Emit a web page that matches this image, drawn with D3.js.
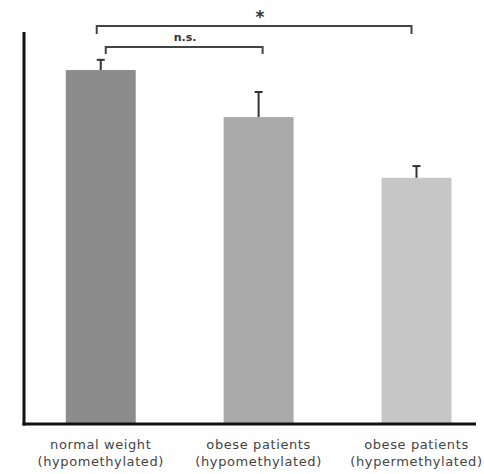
<!DOCTYPE html>
<html><head><meta charset="utf-8">
<script src="https://cdn.jsdelivr.net/npm/d3@7"></script>
<style>body{margin:0;background:#fff}svg{display:block}</style>
</head><body>
<svg id="c" width="484" height="474"></svg>
<script>
const categories = ["normal weight", "obese patients", "obese patients"];
const subLabels = ["(hypomethylated)", "(hypomethylated)", "(hypermethylated)"];
const values = [90.3, 78.3, 62.8];
const errors = [2.6, 6.4, 3.0];
const colors = ["#8c8c8c", "#aaaaaa", "#c6c6c6"];
const sigLabels = ["*", "n.s."];

const svg = d3.select("#c");
const ids = categories.map((d, i) => i);
const x = d3.scaleBand().domain(ids).range([24, 476]).paddingInner(0.557).paddingOuter(0.21).align(0.63);
const y = d3.scaleLinear().domain([0, 100]).range([424, 32]);

// bars
svg.selectAll("rect.bar").data(values).join("rect")
  .attr("x", (d, i) => x(i)).attr("width", x.bandwidth())
  .attr("y", d => y(d)).attr("height", d => y(0) - y(d))
  .attr("fill", (d, i) => colors[i]);

// error bars
const cx = i => x(i) + x.bandwidth() / 2;
const eb = svg.append("g").attr("stroke", "#333").attr("stroke-width", 2);
values.forEach((v, i) => {
  eb.append("line").attr("x1", cx(i)).attr("x2", cx(i)).attr("y1", y(v)).attr("y2", y(v + errors[i]));
  eb.append("line").attr("x1", cx(i) - 4).attr("x2", cx(i) + 4).attr("y1", y(v + errors[i])).attr("y2", y(v + errors[i]));
});

// axes
svg.append("line").attr("x1", 24).attr("x2", 24).attr("y1", y(100)).attr("y2", y(0) + 1.5)
  .attr("stroke", "#111").attr("stroke-width", 3);
svg.append("line").attr("x1", 22.5).attr("x2", 476).attr("y1", y(0)).attr("y2", y(0))
  .attr("stroke", "#111").attr("stroke-width", 3);

// brackets
function bracket(x1, x2, yy, drop, label, ly, fs, lx) {
  const g = svg.append("g");
  g.append("path").attr("d", `M${x1},${yy + drop}V${yy}H${x2}V${yy + drop}`)
    .attr("fill", "none").attr("stroke", "#444").attr("stroke-width", 2);
  g.append("text").attr("x", lx).attr("y", ly).attr("text-anchor", "middle")
    .attr("font-family", "DejaVu Sans, sans-serif").attr("font-size", fs).attr("font-weight", "bold")
    .attr("fill", "#333").text(label);
}
bracket(cx(0) - 4, cx(2) - 5, 26, 8, sigLabels[0], 23, 17, 260);
bracket(cx(0) + 5, cx(1) + 4, 47, 7, sigLabels[1], 41, 11, 185);

// category labels
const lab = svg.append("g").attr("font-family", "DejaVu Sans, sans-serif").attr("font-size", 13)
  .attr("letter-spacing", 0.6).attr("fill", "#444").attr("text-anchor", "middle");
categories.forEach((c, i) => {
  lab.append("text").attr("x", cx(i)).attr("y", 449).text(c);
  lab.append("text").attr("x", cx(i)).attr("y", 466).text(subLabels[i]);
});
</script>
</body></html>
